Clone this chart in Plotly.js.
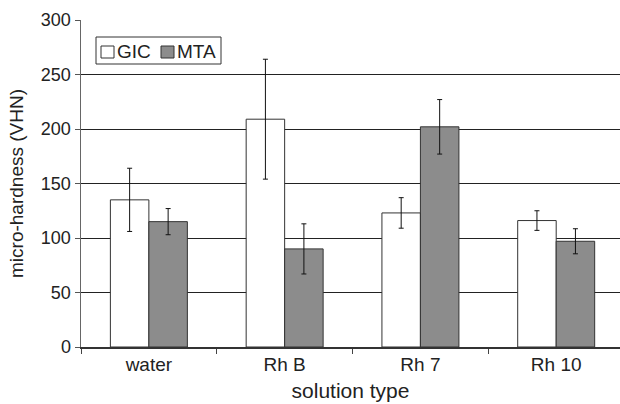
<!DOCTYPE html>
<html>
<head>
<meta charset="utf-8">
<script src="https://cdn.plot.ly/plotly-3.0.1.min.js"></script>
<style>html,body{margin:0;padding:0;background:#fff;}#chart{width:620px;height:404px;}</style>
</head>
<body>
<div id="chart"></div>
<script>
// ---- data ----
var categories = ["water", "Rh B", "Rh 7", "Rh 10"];
var seriesNames = ["GIC", "MTA"];
var gicValues = [135, 209, 123, 116];
var gicErrors = [29, 55, 14, 9];
var mtaValues = [115, 90, 202, 97];
var mtaErrors = [12, 23, 25, 11.5];
var yTicks = [0, 50, 100, 150, 200, 250, 300];

// ---- styling ----
var FONT = "Liberation Sans, Arial, Helvetica, sans-serif";
var gicColor = "#ffffff";
var mtaColor = "#8c8c8c";
var edge = "#333333";

var traces = [
  {
    type: "bar", name: seriesNames[0], x: categories, y: gicValues,
    marker: {color: gicColor, line: {color: edge, width: 1}},
    error_y: {type: "data", array: gicErrors, visible: true, color: "#111", thickness: 1, width: 2.5},
    showlegend: false, hoverinfo: "skip"
  },
  {
    type: "bar", name: seriesNames[1], x: categories, y: mtaValues,
    marker: {color: mtaColor, line: {color: edge, width: 1}},
    error_y: {type: "data", array: mtaErrors, visible: true, color: "#111", thickness: 1, width: 2.5},
    showlegend: false, hoverinfo: "skip"
  }
];

// layout geometry (pixels)
var W = 620, H = 404, L = 81, T = 20, B = 57, R = 0;
var pw = W - L - R, ph = H - T - B;
function px(x) { return (x - L) / pw; }
function py(y) { return 1 - (y - T) / ph; }

// custom legend (box + swatches + labels)
var legendShapes = [
  {type: "rect", xref: "paper", yref: "paper", x0: px(96), x1: px(221), y0: py(64), y1: py(37),
   line: {color: edge, width: 1}, fillcolor: "#ffffff", layer: "above"},
  {type: "rect", xref: "paper", yref: "paper", x0: px(101), x1: px(114), y0: py(58), y1: py(46),
   line: {color: edge, width: 1}, fillcolor: gicColor, layer: "above"},
  {type: "rect", xref: "paper", yref: "paper", x0: px(161), x1: px(174), y0: py(58), y1: py(46),
   line: {color: edge, width: 1}, fillcolor: mtaColor, layer: "above"}
];
var legendAnn = [
  {xref: "paper", yref: "paper", x: px(115), y: py(51.5), text: seriesNames[0], showarrow: false,
   xanchor: "left", yanchor: "middle", font: {family: FONT, size: 19, color: "#222"}},
  {xref: "paper", yref: "paper", x: px(175), y: py(51.5), text: seriesNames[1], showarrow: false,
   xanchor: "left", yanchor: "middle", font: {family: FONT, size: 19, color: "#222"}}
];

var layout = {
  width: W, height: H,
  margin: {l: L, r: R, t: T, b: B, pad: 0},
  paper_bgcolor: "#ffffff", plot_bgcolor: "#ffffff",
  font: {family: FONT, size: 18, color: "#222"},
  barmode: "group", bargap: 0.433, bargroupgap: 0,
  showlegend: false,
  xaxis: {
    type: "category", range: [-0.5, 3.47],
    tickson: "boundaries", ticks: "outside", ticklen: 5, tickcolor: "#444", tickwidth: 1,
    showline: true, linecolor: "#333", linewidth: 1.5,
    showgrid: false, zeroline: false,
    tickfont: {family: FONT, size: 19, color: "#222"},
    title: {text: "solution type", font: {family: FONT, size: 21, color: "#222"}, standoff: 9}
  },
  yaxis: {
    range: [0, 300], tickvals: yTicks, ticktext: yTicks.map(String),
    ticks: "outside", ticklen: 5, tickcolor: "#555", tickwidth: 1,
    showline: true, linecolor: "#666", linewidth: 1.5,
    showgrid: true, gridcolor: "#222", gridwidth: 1,
    zeroline: false,
    tickfont: {family: FONT, size: 18, color: "#222"},
    title: {text: "micro-hardness (VHN)", font: {family: FONT, size: 19, color: "#222"}, standoff: 12}
  },
  shapes: legendShapes,
  annotations: legendAnn
};

Plotly.newPlot("chart", traces, layout, {staticPlot: true, displayModeBar: false});
</script>
</body>
</html>
